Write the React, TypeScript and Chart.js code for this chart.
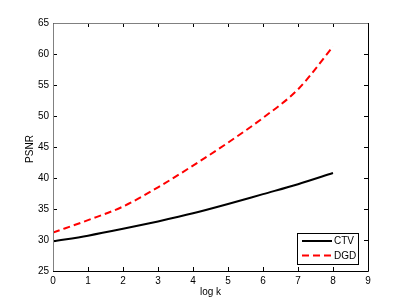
import React, { useEffect, useRef } from "react";
import { Chart, registerables } from "chart.js";

Chart.register(...registerables);

const xValues = [0, 1, 2, 3, 4, 5, 6, 7, 8];
const ctvValues = [29.8, 30.7, 31.8, 33.0, 34.3, 35.8, 37.4, 39.0, 40.8];
const dgdValues = [31.2, 33.2, 35.4, 38.5, 42.0, 45.7, 49.7, 54.3, 61.2];
const seriesNames = ["CTV", "DGD"];
const xTitle = "log k";
const yTitle = "PSNR";

const FONT = "'Liberation Sans', Arial, Helvetica, sans-serif";

const framePlugin = {
  id: "frame",
  afterDraw(chart: any) {
    const { ctx, chartArea } = chart;
    const { left, right, top, bottom } = chartArea;
    const xs = chart.scales.x;
    const ys = chart.scales.y;
    ctx.save();
    ctx.lineWidth = 1;
    ctx.strokeStyle = "#000";
    const tl = 4;
    xs.ticks.forEach((t: any) => {
      const px = Math.round(xs.getPixelForValue(t.value)) + 0.5;
      ctx.beginPath();
      ctx.moveTo(px, bottom);
      ctx.lineTo(px, bottom - tl);
      ctx.moveTo(px, top);
      ctx.lineTo(px, top + tl);
      ctx.stroke();
    });
    ys.ticks.forEach((t: any) => {
      const py = Math.round(ys.getPixelForValue(t.value)) + 0.5;
      ctx.beginPath();
      ctx.moveTo(left, py);
      ctx.lineTo(left + tl, py);
      ctx.moveTo(right, py);
      ctx.lineTo(right - tl, py);
      ctx.stroke();
    });
    ctx.strokeStyle = "#808080";
    ctx.beginPath();
    ctx.moveTo(Math.round(left) + 0.5, Math.round(bottom));
    ctx.lineTo(Math.round(left) + 0.5, Math.round(top) + 0.5);
    ctx.lineTo(Math.round(right), Math.round(top) + 0.5);
    ctx.stroke();
    ctx.strokeStyle = "#000";
    ctx.beginPath();
    ctx.moveTo(Math.round(left), Math.round(bottom) + 0.5);
    ctx.lineTo(Math.round(right) + 0.5, Math.round(bottom) + 0.5);
    ctx.lineTo(Math.round(right) + 0.5, Math.round(top));
    ctx.stroke();

    ctx.fillStyle = "#000";
    ctx.font = `10px ${FONT}`;
    ctx.textAlign = "center";
    ctx.textBaseline = "middle";
    ctx.fillText(xTitle, (left + right) / 2, 292);
    ctx.save();
    ctx.translate(30, 149);
    ctx.rotate(-Math.PI / 2);
    ctx.fillText(yTitle, 0, 0);
    ctx.restore();

    const lx = 297.5, ly = 233.5, lw = 61, lh = 31;
    ctx.fillStyle = "#fff";
    ctx.fillRect(lx, ly, lw, lh);
    ctx.strokeStyle = "#000";
    ctx.lineWidth = 1;
    ctx.strokeRect(lx, ly, lw, lh);
    const ds = chart.data.datasets;
    const rows = [241, 255.5];
    ds.forEach((d: any, i: number) => {
      ctx.beginPath();
      ctx.strokeStyle = d.borderColor;
      ctx.lineWidth = 2;
      ctx.setLineDash(d.borderDash || []);
      ctx.moveTo(302, rows[i]);
      ctx.lineTo(332, rows[i]);
      ctx.stroke();
      ctx.setLineDash([]);
      ctx.fillStyle = "#000";
      ctx.font = `10px ${FONT}`;
      ctx.textAlign = "left";
      ctx.textBaseline = "middle";
      ctx.fillText(d.label, 334, rows[i] + 0.5);
    });
    ctx.restore();
  },
};

export default function App() {
  const ref = useRef<HTMLCanvasElement | null>(null);
  useEffect(() => {
    if (!ref.current) return;
    const chart = new Chart(ref.current, {
      type: "line",
      data: {
        datasets: [
          {
            label: seriesNames[0],
            data: xValues.map((x, i) => ({ x, y: ctvValues[i] })),
            borderColor: "#000000",
            borderWidth: 2,
            pointRadius: 0,
            cubicInterpolationMode: "monotone",
            fill: false,
          },
          {
            label: seriesNames[1],
            data: xValues.map((x, i) => ({ x, y: dgdValues[i] })),
            borderColor: "#ff0000",
            borderWidth: 2,
            borderDash: [7, 4],
            pointRadius: 0,
            cubicInterpolationMode: "monotone",
            fill: false,
          },
        ],
      },
      options: {
        animation: false,
        responsive: false,
        layout: { padding: { top: 23, right: 39, left: 0, bottom: 0 } },
        plugins: { legend: { display: false }, tooltip: { enabled: false } },
        scales: {
          x: {
            type: "linear",
            min: 0,
            max: 9,
            grid: { display: false, drawTicks: false, tickLength: 0 },
            border: { display: false },
            ticks: {
              stepSize: 1,
              color: "#000",
              font: { family: FONT, size: 10 },
              padding: 4,
              maxRotation: 0,
            },
            afterFit(scale: any) {
              scale.height = 35;
            },
          },
          y: {
            min: 25,
            max: 65,
            grid: { display: false, drawTicks: false, tickLength: 0 },
            border: { display: false },
            ticks: {
              stepSize: 5,
              color: "#000",
              font: { family: FONT, size: 10 },
              padding: 4,
            },
            afterFit(scale: any) {
              scale.width = 53;
            },
          },
        },
      },
      plugins: [framePlugin],
    } as any);
    return () => chart.destroy();
  }, []);
  return (
    <div style={{ position: "fixed", left: 0, top: 0, width: 407, height: 306, background: "#fff" }}>
      <canvas ref={ref} width={407} height={306} style={{ display: "block" }} />
    </div>
  );
}
